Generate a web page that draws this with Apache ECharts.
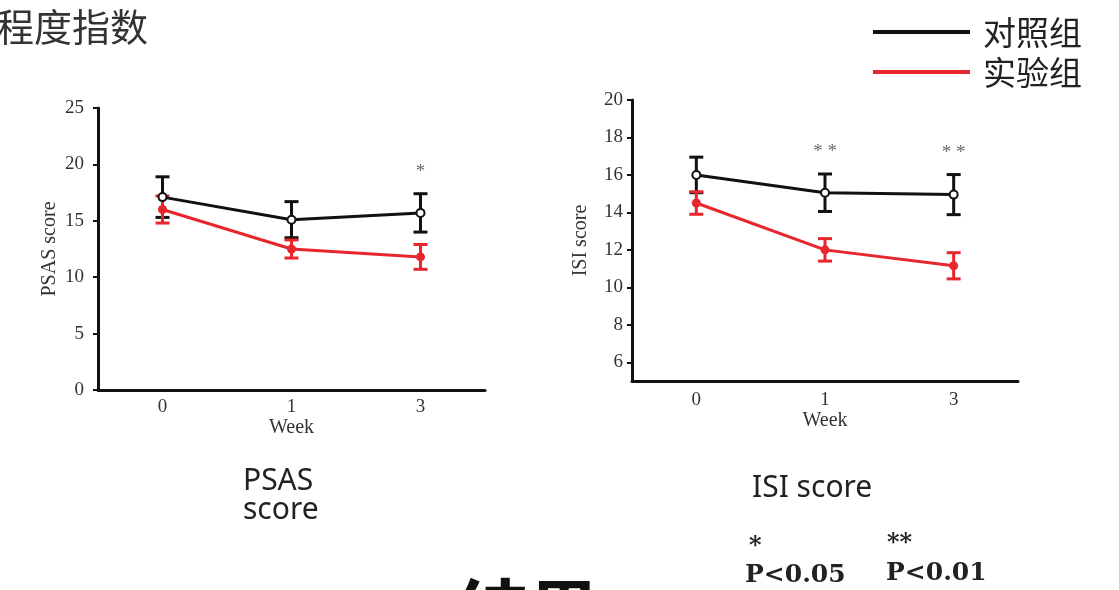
<!DOCTYPE html>
<html>
<head>
<meta charset="utf-8">
<script src="https://cdn.jsdelivr.net/npm/echarts@6/dist/echarts.min.js"></script>
<style>
  html, body { margin: 0; padding: 0; background: #fff; }
  #main { width: 1119px; height: 590px; }
</style>
</head>
<body>
<div id="main"></div>
<script>
// 周数
const weeks = ['0', '1', '3']

// PSAS 评分 (均值 / 误差)
const psasCtrl = [17.1, 15.1, 15.7]
const psasCtrlErr = [1.8, 1.6, 1.7]
const psasExp = [16.0, 12.5, 11.8]
const psasExpErr = [1.2, 0.8, 1.1]
const psasSig = ['', '', '*']

// ISI 评分
const isiCtrl = [16.0, 15.05, 14.95]
const isiCtrlErr = [0.95, 1.0, 1.07]
const isiExp = [14.5, 12.0, 11.15]
const isiExpErr = [0.6, 0.6, 0.7]
const isiSig = ['', '* *', '* *']

const isiTicks = [6, 8, 10, 12, 14, 16, 18, 20]

const BLACK = '#111'
const RED = '#e8262d'
const serif = 'Liberation Serif'

// 误差线
const errRender = function (params, api) {
  const i = api.value(0)
  const v = api.value(1)
  const e = api.value(2)
  const hi = api.coord([i, v + e])
  const lo = api.coord([i, v - e])
  const w = 7
  const style = { stroke: api.visual('color'), lineWidth: 3 }
  return {
    type: 'group',
    children: [
      { type: 'line', shape: { x1: hi[0], y1: hi[1], x2: lo[0], y2: lo[1] }, style },
      { type: 'line', shape: { x1: hi[0] - w, y1: hi[1], x2: hi[0] + w, y2: hi[1] }, style },
      { type: 'line', shape: { x1: lo[0] - w, y1: lo[1], x2: lo[0] + w, y2: lo[1] }, style }
    ]
  }
}

const errSeries = function (name, idx, vals, errs, color) {
  return {
    name,
    type: 'custom',
    xAxisIndex: idx,
    yAxisIndex: idx,
    itemStyle: { color },
    renderItem: errRender,
    data: vals.map((v, i) => [i, v, errs[i]]),
    z: 2
  }
}

const lineSeries = function (name, idx, vals, color, hollow) {
  return {
    name,
    type: 'line',
    xAxisIndex: idx,
    yAxisIndex: idx,
    data: vals,
    symbol: 'circle',
    symbolSize: hollow ? 8 : 9,
    showSymbol: true,
    lineStyle: { color, width: 3 },
    itemStyle: hollow
      ? { color: '#fff', borderColor: color, borderWidth: 2 }
      : { color, borderWidth: 0 },
    z: 3
  }
}

const sigSeries = function (idx, vals, errs, marks) {
  return {
    type: 'scatter',
    xAxisIndex: idx,
    yAxisIndex: idx,
    symbolSize: 0,
    silent: true,
    data: marks.map((m, i) => ({ value: [i, vals[i] + errs[i]], mark: m })),
    label: {
      show: true,
      position: 'top',
      distance: 12,
      formatter: p => p.data.mark,
      fontFamily: serif,
      fontSize: 19,
      color: '#444'
    }
  }
}

const xAxisOf = function (idx, margin, gap) {
  return {
    type: 'category',
    gridIndex: idx,
    data: weeks,
    boundaryGap: true,
    name: 'Week',
    nameLocation: 'middle',
    nameGap: gap,
    nameTextStyle: { fontFamily: serif, fontSize: 20, color: '#333' },
    axisLine: { lineStyle: { color: BLACK, width: 3 } },
    axisTick: { show: false },
    axisLabel: { fontFamily: serif, fontSize: 19, color: '#333', margin }
  }
}

const myChart = echarts.init(document.getElementById('main'))
myChart.setOption({
  backgroundColor: '#fff',
  animation: false,
  legend: {
    left: 873,
    top: 12,
    padding: 0,
    orient: 'vertical',
    data: [
      { name: '对照组', itemStyle: { color: BLACK, borderWidth: 0 } },
      { name: '实验组', itemStyle: { color: RED, borderWidth: 0 } }
    ],
    icon: 'rect',
    itemWidth: 97,
    itemHeight: 4,
    itemGap: 0,
    textStyle: {
      fontFamily: 'Noto Sans CJK SC',
      fontSize: 33,
      color: '#222',
      lineHeight: 40,
      padding: [0, 0, 0, 8]
    }
  },
  grid: [
    { left: 98, top: 108, width: 387, height: 282 },
    { left: 632, top: 100, width: 386, height: 281 }
  ],
  xAxis: [xAxisOf(0, 8, 26), xAxisOf(1, 10, 30)],
  yAxis: [
    {
      type: 'value',
      gridIndex: 0,
      min: 0,
      max: 25,
      interval: 5,
      name: 'PSAS score',
      nameLocation: 'middle',
      nameGap: 38,
      nameTextStyle: { fontFamily: serif, fontSize: 20, color: '#333' },
      axisLine: { show: true, lineStyle: { color: BLACK, width: 3 } },
      axisTick: { show: true, length: 5, lineStyle: { width: 2, color: BLACK } },
      axisLabel: { fontFamily: serif, fontSize: 19, color: '#333', margin: 14 },
      splitLine: { show: false }
    },
    {
      type: 'value',
      gridIndex: 1,
      min: 5,
      max: 20,
      name: 'ISI score',
      nameLocation: 'middle',
      nameGap: 41,
      nameTextStyle: { fontFamily: serif, fontSize: 20, color: '#333' },
      axisLine: { show: true, lineStyle: { color: BLACK, width: 3 } },
      axisTick: { show: true, length: 5, customValues: isiTicks, lineStyle: { width: 2, color: BLACK } },
      axisLabel: { fontFamily: serif, fontSize: 19, color: '#333', margin: 9, customValues: isiTicks },
      splitLine: { show: false }
    }
  ],
  series: [
    errSeries('对照组误差', 0, psasCtrl, psasCtrlErr, BLACK),
    lineSeries('对照组', 0, psasCtrl, BLACK, true),
    errSeries('实验组误差', 0, psasExp, psasExpErr, RED),
    lineSeries('实验组', 0, psasExp, RED, false),
    sigSeries(0, psasCtrl, psasCtrlErr, psasSig),

    errSeries('对照组误差', 1, isiCtrl, isiCtrlErr, BLACK),
    lineSeries('对照组', 1, isiCtrl, BLACK, true),
    errSeries('实验组误差', 1, isiExp, isiExpErr, RED),
    lineSeries('实验组', 1, isiExp, RED, false),
    sigSeries(1, isiCtrl, isiCtrlErr, isiSig)
  ],
  graphic: [
    {
      type: 'text', left: -4, top: 8,
      style: { text: '程度指数', font: '38px "Noto Sans CJK SC"', fill: '#333' }
    },
    {
      type: 'text', left: 243, top: 466,
      style: { text: 'PSAS\nscore', font: '30px "Noto Sans"', lineHeight: 29, fill: '#222' }
    },
    {
      type: 'text', left: 752, top: 473,
      style: { text: 'ISI score', font: '30px "Noto Sans"', fill: '#222' }
    },
    {
      type: 'text', left: 749, top: 535,
      style: { text: '*', font: 'bold 24px "DejaVu Serif"', fill: '#222' }
    },
    {
      type: 'text', left: 887, top: 532,
      style: { text: '**', font: 'bold 24px "DejaVu Serif"', fill: '#222' }
    },
    {
      type: 'text', left: 745, top: 563,
      style: { text: 'P<0.05', font: 'bold 25px "DejaVu Serif"', fill: '#222' }
    },
    {
      type: 'text', left: 886, top: 561,
      style: { text: 'P<0.01', font: 'bold 25px "DejaVu Serif"', fill: '#222' }
    },
    {
      type: 'text', left: 456, top: 576,
      style: { text: '结果', font: 'bold 72px "Noto Sans CJK SC"', fill: '#111' }
    }
  ]
})
</script>
</body>
</html>
